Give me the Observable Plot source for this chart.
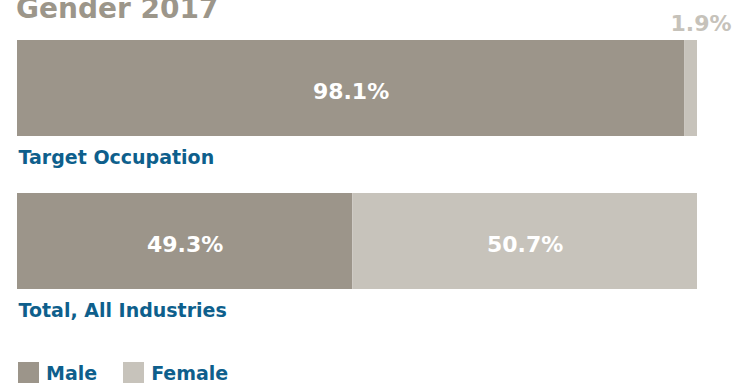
<!DOCTYPE html>
<html>
<head>
<meta charset="utf-8">
<script src="https://cdn.jsdelivr.net/npm/d3@7"></script>
<script src="https://cdn.jsdelivr.net/npm/@observablehq/plot@0.6"></script>
<style>
  html, body { margin: 0; padding: 0; width: 745px; height: 383px; overflow: hidden; background: #fff; }
  body { position: relative; font-family: "DejaVu Sans", sans-serif; }
  #title { position: absolute; left: 16px; top: -5px; font-size: 28px; line-height: 28px; font-weight: bold; color: #9c968a; white-space: nowrap; }
  #chart { position: absolute; left: 0; top: 0; }
  #legend { position: absolute; left: 18px; top: 362px; display: flex; align-items: flex-start; font-size: 19px; line-height: 19px; font-weight: bold; color: #0e5f8c; }
  .sw { width: 21px; height: 21px; display: inline-block; margin-right: 7px; }
  .item { display: flex; align-items: flex-start; margin-right: 26px; }
  .item span.t { margin-top: 2px; }
</style>
</head>
<body>
<div id="title">Gender 2017</div>
<div id="chart"></div>
<div id="legend"></div>
<script>
const categories = ["Target Occupation", "Total, All Industries"];
const sexes = ["Male", "Female"];
const maleValues = [98.1, 49.3];
const femaleValues = [1.9, 50.7];
const colors = ["#9c958a", "#c7c3bb"];

const data = [];
categories.forEach((c, i) => {
  data.push({category: c, sex: "Male", value: maleValues[i]});
  data.push({category: c, sex: "Female", value: femaleValues[i]});
});

const fmt = d => d.value.toFixed(1) + "%";

const plot = Plot.plot({
  width: 745,
  height: 345,
  margin: 0,
  style: {fontFamily: "DejaVu Sans, sans-serif", background: "transparent"},
  x: {domain: [0, 100], range: [17, 697], axis: null},
  y: {domain: categories, range: [40, 291], paddingInner: 0.37, paddingOuter: 0, align: 0, axis: null},
  color: {domain: sexes, range: colors},
  marks: [
    Plot.barX(data, Plot.stackX({x: "value", y: "category", fill: "sex", order: sexes})),
    Plot.textX(data, Plot.stackX({
      x: "value", y: "category", z: "sex", order: sexes,
      text: d => d.value >= 5 ? fmt(d) : "",
      fill: "white", fontSize: 22, fontWeight: "bold", dy: 3
    })),
    Plot.textX(data, Plot.stackX({
      x: "value", y: "category", z: "sex", order: sexes,
      text: d => d.value < 5 ? fmt(d) : "",
      fill: "#c6c2ba", fontSize: 22, fontWeight: "bold", dx: 10, dy: -65
    })),
    Plot.text(categories, {
      x: () => 0, y: d => d, text: d => d,
      textAnchor: "start", dx: 1, dy: 69.5,
      fill: "#0e5f8c", fontSize: 19, fontWeight: "bold"
    })
  ]
});
document.getElementById("chart").appendChild(plot);

const legend = document.getElementById("legend");
sexes.forEach((s, i) => {
  const it = document.createElement("div");
  it.className = "item";
  const sw = document.createElement("span");
  sw.className = "sw";
  sw.style.background = colors[i];
  it.appendChild(sw);
  const t = document.createElement("span");
  t.className = "t";
  t.textContent = s;
  it.appendChild(t);
  legend.appendChild(it);
});
</script>
</body>
</html>
